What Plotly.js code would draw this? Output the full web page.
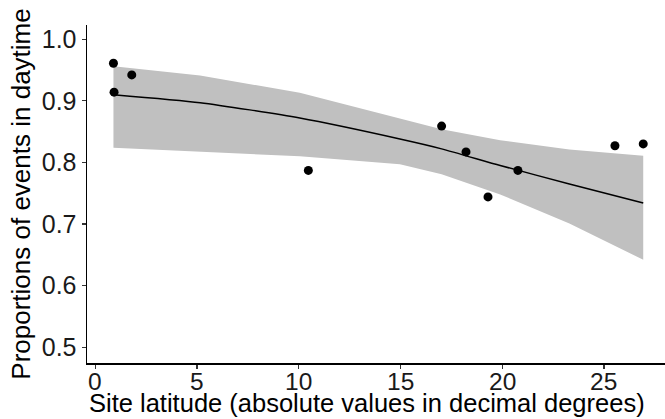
<!DOCTYPE html>
<html>
<head>
<meta charset="utf-8">
<script src="https://cdn.plot.ly/plotly-3.0.1.min.js"></script>
<style>html,body{margin:0;padding:0;background:#fff;}#chart{width:665px;height:419px;}</style>
</head>
<body>
<div id="chart"></div>
<script>
// Observed sites
const latitude = [0.89, 1.79, 0.92, 10.47, 17.02, 18.22, 19.30, 20.77, 25.54, 26.93];
const proportion = [0.961, 0.942, 0.914, 0.787, 0.859, 0.817, 0.744, 0.787, 0.827, 0.830];

// Fitted curve and confidence band
const fitX = [0.89, 5.15, 10.05, 14.97, 17.02, 19.90, 23.30, 26.93];
const fitY = [0.910, 0.897, 0.872, 0.838, 0.822, 0.795, 0.765, 0.734];
const bandUpper = [0.956, 0.941, 0.913, 0.872, 0.854, 0.836, 0.821, 0.811];
const bandLower = [0.824, 0.818, 0.810, 0.797, 0.781, 0.748, 0.701, 0.642];

const xTicks = [0, 5, 10, 15, 20, 25];
const xTickLabels = ['0', '5', '10', '15', '20', '25'];
const yTicks = [0.5, 0.6, 0.7, 0.8, 0.9, 1.0];
const xTitle = 'Site latitude (absolute values in decimal degrees)';
const yTitle = 'Proportions of events in daytime';

const font = "Liberation Sans, Arial, sans-serif";

const band = {
  x: fitX.concat(fitX.slice().reverse()),
  y: bandUpper.concat(bandLower.slice().reverse()),
  type: 'scatter', mode: 'lines', fill: 'toself',
  fillcolor: 'rgb(192,192,192)', line: {width: 0},
  hoverinfo: 'skip', showlegend: false
};
const fit = {
  x: fitX, y: fitY, type: 'scatter', mode: 'lines',
  line: {color: 'black', width: 1.5, shape: 'spline', smoothing: 0.6}, showlegend: false
};
const pts = {
  x: latitude, y: proportion, type: 'scatter', mode: 'markers',
  marker: {color: 'black', size: 9}, showlegend: false
};

// x tick labels placed on the axis scale (data x, paper y)
const tickAnnots = xTicks.map((v, i) => ({
  text: xTickLabels[i], x: v, xref: 'x', y: 0, yref: 'paper',
  xanchor: 'center', yanchor: 'middle', yshift: -18, showarrow: false,
  font: {family: font, size: 24.5, color: '#1a1a1a'}, borderpad: 0
}));

const layout = {
  width: 665, height: 419,
  margin: {l: 87, r: 0, t: 25, b: 56},
  paper_bgcolor: 'white', plot_bgcolor: 'white',
  font: {family: font, color: 'black', size: 25},
  xaxis: {
    range: [-0.41, 28.0], tickvals: xTicks, showticklabels: false,
    showgrid: false, zeroline: false, showline: true, linecolor: 'black', linewidth: 1.5,
    ticks: 'outside', ticklen: 4, tickcolor: '#333', tickwidth: 1.2
  },
  yaxis: {
    range: [0.4745, 1.023], tickvals: yTicks, tickformat: '.1f',
    showgrid: false, zeroline: false, showline: true, linecolor: 'black', linewidth: 1.5,
    ticks: 'outside', ticklen: 4, tickcolor: '#333', tickwidth: 1.2,
    tickfont: {family: font, size: 25, color: '#1a1a1a'},
    title: {text: yTitle, font: {family: font, size: 26, color: 'black'}, standoff: 3}
  },
  annotations: tickAnnots.concat([{
    text: xTitle, xref: 'paper', yref: 'paper', x: 0.485, y: 0,
    xanchor: 'center', yanchor: 'top', yshift: -25, showarrow: false,
    font: {family: font, size: 25.5, color: 'black'}, borderpad: 0
  }])
};

Plotly.newPlot('chart', [band, fit, pts], layout, {displayModeBar: false, staticPlot: true});
</script>
</body>
</html>
